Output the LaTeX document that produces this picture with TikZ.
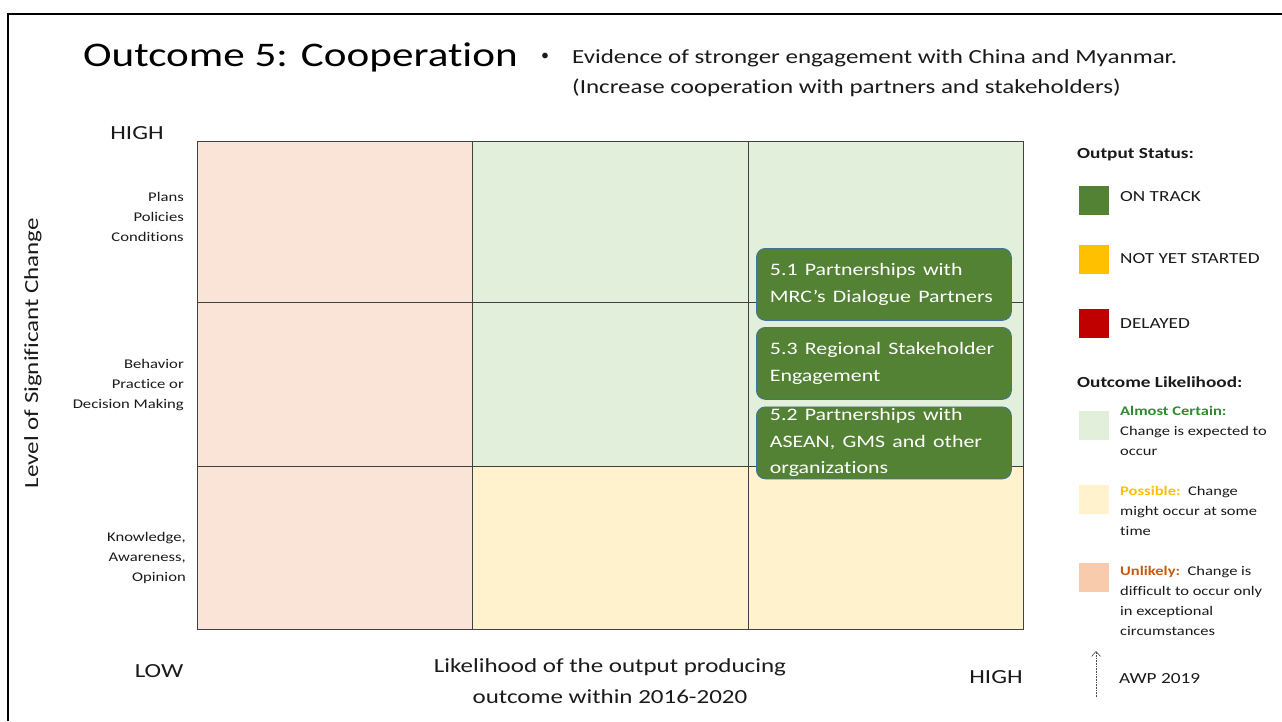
\documentclass[tikz,border=0pt]{standalone}
\usepackage{fontspec}
\setmainfont{Carlito}[Ligatures=NoCommon]
\usetikzlibrary{arrows.meta}
\newcommand{\sx}[1]{\scalebox{1.25}[1]{#1}}
\definecolor{cpeach}{HTML}{FAE4D7}
\definecolor{cgreenl}{HTML}{E2EFDA}
\definecolor{cyell}{HTML}{FFF2CC}
\definecolor{cgreen}{HTML}{548235}
\definecolor{cgold}{HTML}{FFC000}
\definecolor{cred}{HTML}{C00000}
\definecolor{cpeachsq}{HTML}{F8CBAD}
\definecolor{cboxline}{HTML}{41719C}
\definecolor{ctxtgreen}{HTML}{2E8B2E}
\definecolor{ctxtorange}{HTML}{C55A11}
\definecolor{ctext}{HTML}{1A1A1A}
\tikzset{
  big/.style={font=\fontsize{20}{27}\selectfont, text=ctext, inner sep=0pt},
  rowlab/.style={font=\fontsize{13.3}{20}\selectfont, text=ctext, align=right, anchor=east, inner sep=0pt},
  leg/.style={font=\fontsize{15.4}{20}\selectfont, text=ctext, anchor=west, inner sep=0pt},
  legsmall/.style={font=\fontsize{13.2}{20}\selectfont, text=ctext, align=left, anchor=north west, inner sep=0pt},
  sq/.style={minimum width=30pt, minimum height=29pt, inner sep=0pt, anchor=north west},
  gbox/.style={rounded corners=9pt, draw=cboxline, line width=0.8pt, fill=cgreen, text=white,
    font=\fontsize{17.5}{26.5}\selectfont, align=left, text width=228pt, inner xsep=13pt, inner ysep=0pt,
    minimum width=255pt, minimum height=72pt, anchor=north west},
  cell/.style={draw=black!75, line width=0.9pt}
}
\begin{document}
\begin{tikzpicture}[x=1pt,y=-1pt]
\useasboundingbox (0,0) rectangle (1282,721);
% frame
\draw[line width=2pt] (7.5,721) -- (7.5,14) -- (1282,14);
% grid cells
\foreach \xa/\xb/\ya/\yb/\c in {197/472/141/302/cpeach,197/472/302/466/cpeach,197/472/466/629/cpeach,
  472/748/141/302/cgreenl,472/748/302/466/cgreenl,472/748/466/629/cyell,
  748/1023/141/302/cgreenl,748/1023/302/466/cgreenl,748/1023/466/629/cyell}
  {\fill[\c] (\xa,\ya) rectangle (\xb,\yb);}
\draw[cell] (197,141) rectangle (1023,629);
\draw[cell] (472,141) -- (472,629);
\draw[cell] (748,141) -- (748,629);
\draw[cell] (197,302) -- (1023,302);
\draw[cell] (197,466) -- (1023,466);
% title
\node[font=\fontsize{34.5}{40}\selectfont, text=black, anchor=west, inner sep=0pt] (title) at (83,57) {\sx{Outcome 5: Cooperation}};
\node[big, anchor=center, font=\fontsize{16}{20}\selectfont] (bul) at (545,57) {•};
\node[big, anchor=west] (ev1) at (572,58) {\sx{Evidence of stronger engagement with China and Myanmar.}};
\node[big, anchor=west] (ev2) at (572,88) {\sx{(Increase cooperation with partners and stakeholders)}};
% axis labels
\node[big, anchor=center] (yhigh) at (137,133) {\sx{HIGH}};
\node[big, anchor=center] (ylow) at (159,671) {\sx{LOW}};
\node[big, anchor=center] (xhigh) at (996,677) {\sx{HIGH}};
\node[big, rotate=90, anchor=center] (yaxis) at (33,353) {\sx{Level of Significant Change}};
\node[big, align=center, font=\fontsize{20}{31}\selectfont] (xaxis) at (610,681) {\sx{Likelihood of the output producing}\\\sx{outcome within 2016-2020}};
% row labels
\node[rowlab] (r1) at (184,217) {\sx{Plans}\\\sx{Policies}\\\sx{Conditions}};
\node[rowlab] (r2) at (184,385) {\sx{Behavior}\\\sx{Practice or}\\\sx{Decision Making}};
\node[rowlab] (r3) at (186,558) {\sx{Knowledge,}\\\sx{Awareness,}\\\sx{Opinion}};
% output boxes
\node[gbox] (b51) at (756,248) {\sx{5.1 Partnerships with}\\\sx{MRC’s Dialogue Partners}};
\node[gbox] (b53) at (756,327) {\sx{5.3 Regional Stakeholder}\\\sx{Engagement}};
\node[gbox] (b52) at (756,406.5) {\sx{5.2 Partnerships with}\\\sx{ASEAN, GMS and other}\\\sx{organizations}};
% legend: output status
\node[leg, font=\fontsize{15.4}{20}\selectfont\bfseries] (ostat) at (1077,155) {\sx{Output Status:}};
\node[sq, fill=cgreen] (sqg) at (1079,186) {};
\node[leg] (lon) at (1120,197) {\sx{ON TRACK}};
\node[sq, fill=cgold] (sqy) at (1079,245) {};
\node[leg] (lnot) at (1120,259) {\sx{NOT YET STARTED}};
\node[sq, fill=cred] (sqr) at (1079,309) {};
\node[leg] (ldel) at (1120,324) {\sx{DELAYED}};
% legend: outcome likelihood
\node[leg, font=\fontsize{15.4}{20}\selectfont\bfseries] (olik) at (1077,382) {\sx{Outcome Likelihood:}};
\node[sq, fill=cgreenl] (sqlg) at (1079,411) {};
\node[legsmall] (lac) at (1120,406) {\sx{\textcolor{ctxtgreen}{\bfseries Almost Certain:}}\\\sx{Change is expected to}\\\sx{occur}};
\node[sq, fill=cyell] (sqly) at (1079,485) {};
\node[legsmall] (lpos) at (1120,486) {\sx{\textcolor{cgold}{\bfseries Possible:}\ \ Change}\\\sx{might occur at some}\\\sx{time}};
\node[sq, fill=cpeachsq] (sqlp) at (1079,563) {};
\node[legsmall] (lunl) at (1120,566) {\sx{\textcolor{ctxtorange}{\bfseries Unlikely:}\ \ Change is}\\\sx{difficult to occur only}\\\sx{in exceptional}\\\sx{circumstances}};
% AWP arrow
\coordinate (awpa) at (1096,697);
\coordinate (awpb) at (1096,651);
\draw[densely dotted, line width=0.6pt, black!70, -{Straight Barb[length=5pt, width=9pt, line width=0.6pt]}] (awpa) -- (awpb);
\node[leg] (awp) at (1119,679) {\sx{AWP 2019}};
\end{tikzpicture}
\end{document}
